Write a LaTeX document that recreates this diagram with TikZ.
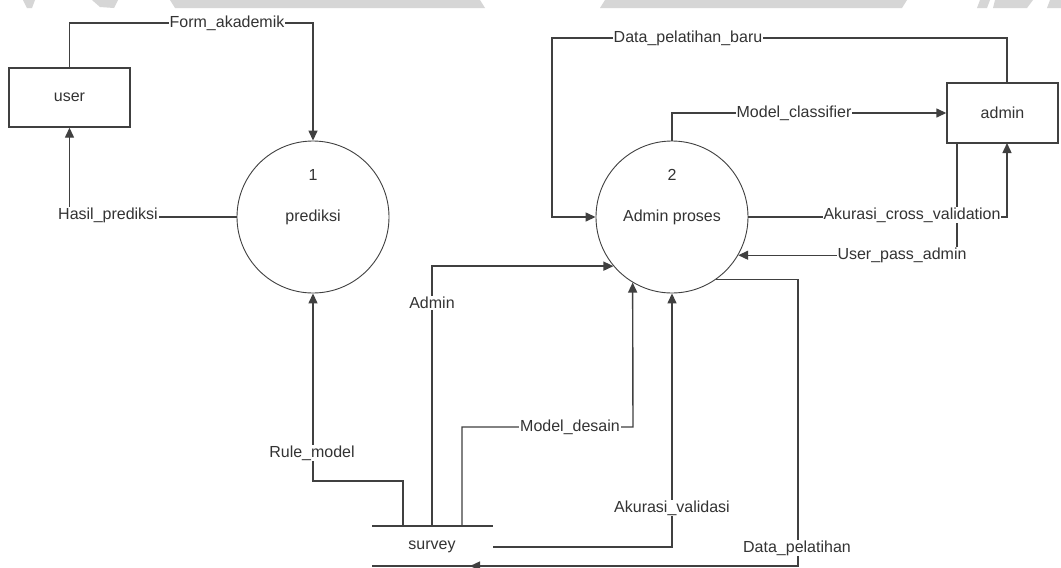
\documentclass[tikz,border=0pt]{standalone}
\usepackage{fontspec}
\setmainfont{Liberation Sans}
\usetikzlibrary{arrows.meta,calc,backgrounds}
\begin{document}
\begin{tikzpicture}[x=1pt,y=-1pt,
  txt/.style={text=black!80,font=\fontsize{16}{18}\selectfont},
  lbl/.style={txt,fill=white,inner sep=1pt},
  flow/.style={draw=black!75,line width=1.4pt},
  arr/.style={flow,-{Triangle[length=10pt,width=9pt]}},
  ent/.style={txt,draw=black!75,line width=1.4pt,rectangle,inner sep=0pt},
  proc/.style={txt,draw=black!75,line width=0.9pt,circle,minimum size=152pt,inner sep=0pt},
  wm/.style={fill=black!16,draw=none}]
\useasboundingbox (0,0) rectangle (1061,568);

% entities and processes
\node[ent,minimum width=121pt,minimum height=59pt] (user) at (69.5,97.5) {user};
\node[ent,minimum width=111pt,minimum height=60pt] (admin) at (1002.5,113) {admin};
\node[proc] (p1) at (313,217) {prediksi};
\node[txt] (p1n) at (313,175) {1};
\node[proc] (p2) at (672,217) {Admin proses};
\node[txt] (p2n) at (672,175) {2};
\node[txt] (survey) at (432,547) {survey};

% helper coordinates
\coordinate (fa) at (313,23);
\coordinate (dpb) at (552,38);
\coordinate (admTop) at (1007,83);
\coordinate (admBotA) at (957,143);
\coordinate (admBotB) at (1007,143);
\coordinate (s1) at (403,526);
\coordinate (s2) at (432,526);
\coordinate (s3) at (462,526);
\coordinate (sL) at (372,526);
\coordinate (sR) at (493,526);
\coordinate (sbL) at (372,566);
\coordinate (sbR) at (493,566);
\coordinate (sOut) at (493,547);
\coordinate (rm) at (313,481);
\coordinate (md) at (633,427);
\coordinate (dp) at (798,566);
\coordinate (dpEnd) at (470,566);

% labels
\node[lbl] (lfa) at (227,23) {Form\_akademik};
\node[lbl] (lhp) at (108,215) {Hasil\_prediksi};
\node[lbl] (ldpb) at (688,38) {Data\_pelatihan\_baru};
\node[lbl] (lmc) at (794,113) {Model\_classifier};
\node[lbl] (lacv) at (912,215) {Akurasi\_cross\_validation};
\node[lbl] (lupa) at (902,255) {User\_pass\_admin};
\node[lbl] (ladm) at (432,303) {Admin};
\node[lbl] (lrm) at (312,453) {Rule\_model};
\node[lbl] (lmd) at (570,427) {Model\_desain};
\node[lbl] (lav) at (672,508) {Akurasi\_validasi};
\node[lbl] (ldp) at (797,548) {Data\_pelatihan};

\begin{pgfonlayer}{background}
  \fill[white] (0,0) rectangle (1061,568);
  % watermark remnants
  \fill[wm] (23,0) -- (35,0) -- (32,8) -- (27,8) -- cycle;
  \fill[wm] (92,0) -- (118,0) -- (114,8) -- (100,7) -- cycle;
  \fill[wm] (170,0) -- (480,0) -- (485,8) -- (175,8) -- cycle;
  \fill[wm] (605,0) -- (907,0) -- (902,8) -- (600,8) -- cycle;
  \fill[wm] (980,0) -- (990,0) -- (987,8) -- (977,8) -- cycle;
  \fill[wm] (995,0) -- (1033,0) -- (1027,8) -- (993,8) -- cycle;
  \fill[wm] (1050,0) -- (1061,0) -- (1061,8) -- (1047,8) -- cycle;
  % data store
  \draw[flow] (sL) -- (sR);
  \draw[flow] (sbL) -- (sbR);
  % flows
  \draw[arr] (user.north) |- (fa) -- (p1.north);
  \draw[arr] (p1.west) -| (user.south);
  \draw[arr] (admTop) |- (dpb) |- (p2.west);
  \draw[arr] (p2.north) |- (admin.west);
  \draw[arr] (p2.east) -| (admBotB);
  \draw[arr] (admBotA) |- (p2.-30);
  \draw[arr] (s2) |- (p2.220);
  \draw[arr] (s1) |- (rm) -- (p1.south);
  \draw[arr] (s3) |- (md) -- (p2.239);
  \draw[arr] (sOut) -| (p2.south);
  \draw[arr] (p2.-55) -| (dp) -- (dpEnd);
\end{pgfonlayer}
\end{tikzpicture}
\end{document}
